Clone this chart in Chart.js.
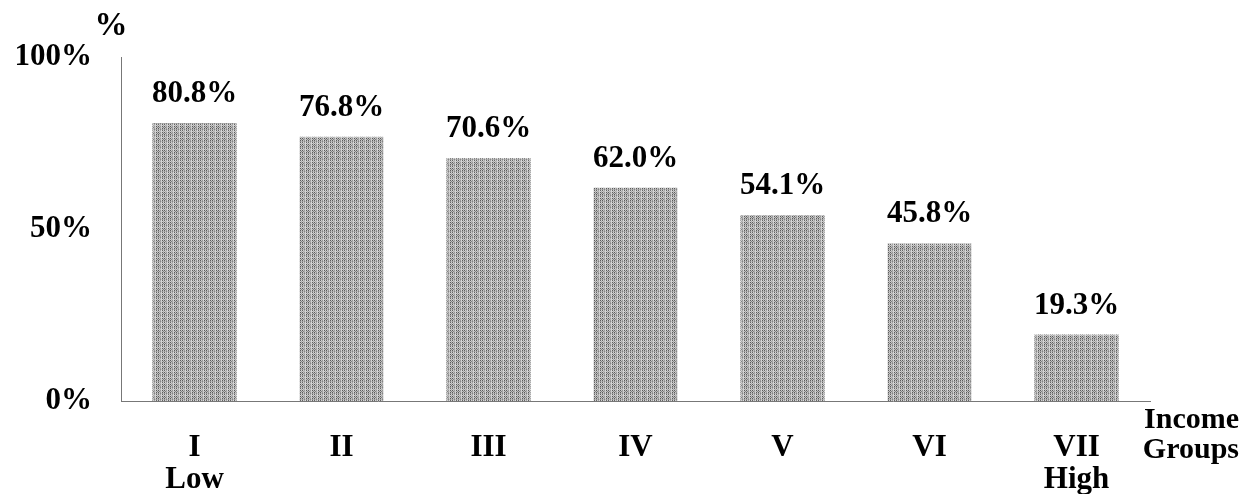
<!DOCTYPE html>
<html>
<head>
<meta charset="utf-8">
<script src="https://cdn.jsdelivr.net/npm/chart.js@4/dist/chart.umd.min.js"></script>
<style>
  html, body { margin: 0; padding: 0; background: #fff; }
  #wrap { width: 1242px; height: 494px; position: relative; }
</style>
</head>
<body>
<div id="wrap"><canvas id="c" width="1242" height="494"></canvas></div>
<script>
// Share of households by income group
const groupNumerals = ["I", "II", "III", "IV", "V", "VI", "VII"];
const groupNotes = ["Low", "", "", "", "", "", "High"];
const shares = [80.8, 76.8, 70.6, 62.0, 54.1, 45.8, 19.3];
const yTicks = [0, 50, 100];

const FONT = "'Liberation Serif', 'Times New Roman', serif";

// Fine grey screen texture used to fill the bars
function makeTexture() {
  const t = document.createElement('canvas');
  t.width = 6; t.height = 6;
  const g = t.getContext('2d');
  const px = [
    [ 90, 200,  90, 200, 150, 215],
    [190, 130, 190, 130, 175, 200],
    [ 90, 200,  90, 200, 150, 215],
    [155, 180, 155, 180, 135, 190],
    [100, 210, 100, 210, 160, 220],
    [205, 170, 205, 170, 190, 210]
  ];
  for (let y = 0; y < 6; y++) {
    for (let x = 0; x < 6; x++) {
      const v = px[y][x];
      g.fillStyle = `rgb(${v},${v},${v})`;
      g.fillRect(x, y, 1, 1);
    }
  }
  return g.createPattern(t, 'repeat');
}

const ctx = document.getElementById('c').getContext('2d');
const texture = makeTexture();

// Value labels above bars plus the axis captions
const annotate = {
  id: 'annotate',
  afterDatasetsDraw(chart) {
    const c = chart.ctx;
    const meta = chart.getDatasetMeta(0);
    c.save();
    c.fillStyle = '#000';
    c.font = `bold 31px ${FONT}`;
    c.textAlign = 'center';
    c.textBaseline = 'alphabetic';
    meta.data.forEach((bar, i) => {
      c.fillText(shares[i].toFixed(1) + '%', bar.x, bar.y - 21);
    });
    const area = chart.chartArea;
    c.font = `bold 33px ${FONT}`;
    c.textAlign = 'center';
    c.fillText('%', area.left - 10, 35);
    c.font = `bold 30px ${FONT}`;
    c.textAlign = 'right';
    c.fillText('Income', 1239, 428);
    c.fillText('Groups', 1239, 458);
    c.restore();
  }
};

new Chart(ctx, {
  type: 'bar',
  data: {
    labels: groupNumerals.map((n, i) => groupNotes[i] ? [n, groupNotes[i]] : [n]),
    datasets: [{
      data: shares,
      backgroundColor: texture,
      borderWidth: 0,
      categoryPercentage: 1.0,
      barPercentage: 0.572
    }]
  },
  options: {
    responsive: false,
    animation: false,
    layout: { padding: { top: 57, right: 92, left: 0, bottom: 0 } },
    plugins: { legend: { display: false }, tooltip: { enabled: false } },
    scales: {
      x: {
        grid: { display: false, drawTicks: false },
        border: { display: true, color: '#777', dash: [1, 1], width: 1 },
        ticks: {
          color: '#000',
          padding: 31,
          maxRotation: 0,
          autoSkip: false,
          font: { family: FONT, size: 31, weight: 'bold', lineHeight: 1.03 }
        },
        afterFit(s) { s.height = 93; }
      },
      y: {
        min: 0,
        max: 100,
        afterBuildTicks(s) { s.ticks = yTicks.map(v => ({ value: v })); },
        grid: { display: false, drawTicks: false },
        border: { display: true, color: '#777', dash: [1, 1], width: 1 },
        ticks: {
          color: '#000',
          padding: 29,
          font: { family: FONT, size: 31, weight: 'bold' },
          callback: v => v + '%'
        },
        afterFit(s) { s.width = 121; }
      }
    }
  },
  plugins: [annotate]
});
</script>
</body>
</html>
